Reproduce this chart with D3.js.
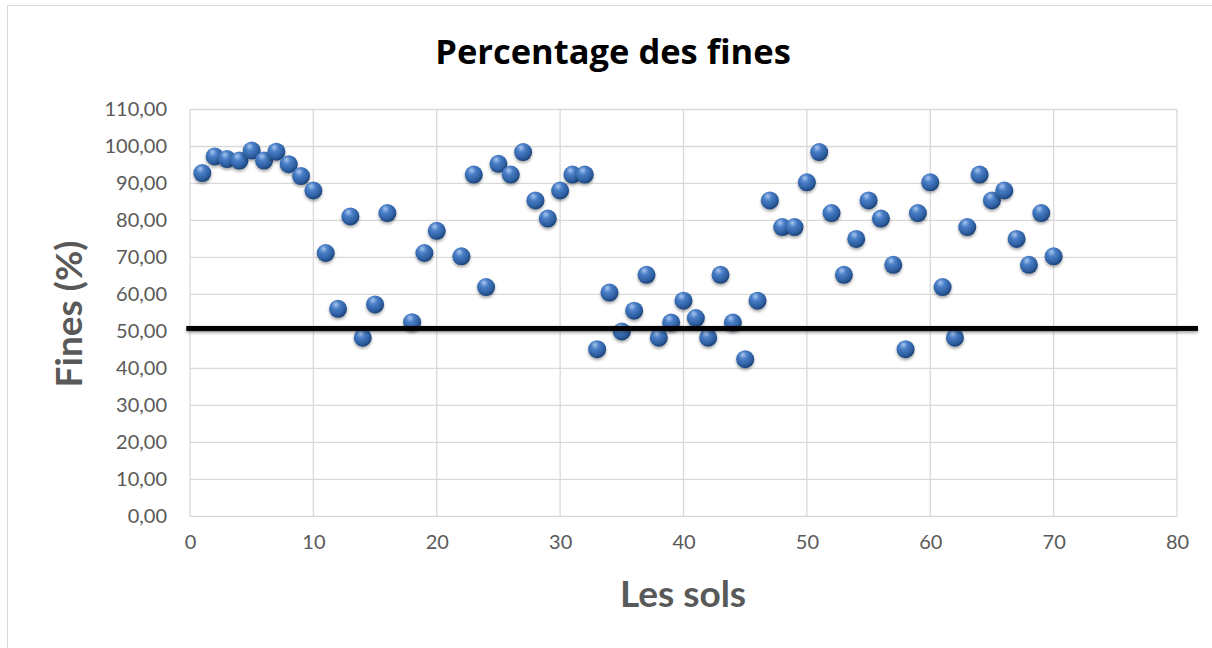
<!DOCTYPE html>
<html>
<head>
<meta charset="utf-8">
<script src="https://cdn.jsdelivr.net/npm/d3@7"></script>
<style>
  html, body { margin: 0; padding: 0; background: #fff; }
  svg { display: block; }
</style>
</head>
<body>
<svg id="chart"></svg>
<script>
// données
const sols = [1, 2, 3, 4, 5, 6, 7, 8, 9, 10, 11, 12, 13, 14, 15, 16, 18, 19, 20, 22,
  23, 24, 25, 26, 27, 28, 29, 30, 31, 32, 33, 34, 35, 36, 37, 38, 39, 40, 41, 42,
  43, 44, 45, 46, 47, 48, 49, 50, 51, 52, 53, 54, 55, 56, 57, 58, 59, 60, 61, 62,
  63, 64, 65, 66, 67, 68, 69, 70];
const fines = [92.8, 97.3, 96.6, 96.2, 98.9, 96.2, 98.6, 95.2, 92.0, 88.1, 71.2, 56.1, 81.1, 48.3, 57.3, 82.0, 52.5, 71.2, 77.2, 70.3,
  92.4, 62.0, 95.3, 92.4, 98.5, 85.4, 80.5, 88.1, 92.4, 92.4, 45.2, 60.5, 50.0, 55.6, 65.3, 48.3, 52.4, 58.3, 53.6, 48.3,
  65.3, 52.4, 42.5, 58.3, 85.4, 78.2, 78.2, 90.3, 98.5, 82.0, 65.3, 75.0, 85.4, 80.5, 68.0, 45.2, 82.0, 90.3, 62.0, 48.3,
  78.2, 92.4, 85.4, 88.1, 75.0, 68.0, 82.0, 70.3];
const xTicks = [0, 10, 20, 30, 40, 50, 60, 70, 80];
const yTicks = [0, 10, 20, 30, 40, 50, 60, 70, 80, 90, 100, 110];
const limite = 50.8;          // trait noir tracé à la main
const limiteX = [-0.3, 81.7];

const W = 1212, H = 648;
const FONT = 'Lato, "Open Sans", sans-serif';
const GREY = '#595959';

const svg = d3.select('#chart').attr('width', W).attr('height', H);

// cadre du graphique
svg.append('rect')
  .attr('x', 7.5).attr('y', 5.5).attr('width', W + 10).attr('height', H + 10)
  .attr('fill', '#fff').attr('stroke', '#d9d9d9').attr('stroke-width', 1);

const x = d3.scaleLinear().domain([0, 80]).range([190, 1177]);
const y = d3.scaleLinear().domain([0, 110]).range([516.3, 109.5]);

// defs : dégradé des bulles + ombre
const defs = svg.append('defs');
const rg = defs.append('radialGradient').attr('id', 'bulle')
  .attr('cx', '40%').attr('cy', '35%').attr('r', '65%').attr('fx', '38%').attr('fy', '25%');
rg.append('stop').attr('offset', '0%').attr('stop-color', '#a9c6ee');
rg.append('stop').attr('offset', '35%').attr('stop-color', '#4a7fc8');
rg.append('stop').attr('offset', '80%').attr('stop-color', '#2c5d9f');
rg.append('stop').attr('offset', '100%').attr('stop-color', '#1b4275');

const sh = defs.append('filter').attr('id', 'ombre')
  .attr('filterUnits', 'userSpaceOnUse').attr('x', 0).attr('y', 0).attr('width', W).attr('height', H);
sh.append('feGaussianBlur').attr('in', 'SourceAlpha').attr('stdDeviation', 1.5).attr('result', 'b');
sh.append('feOffset').attr('in', 'b').attr('dx', 0).attr('dy', 2).attr('result', 'o');
sh.append('feComponentTransfer').attr('in', 'o').attr('result', 'oa')
  .append('feFuncA').attr('type', 'linear').attr('slope', 0.35);
const shm = sh.append('feMerge');
shm.append('feMergeNode').attr('in', 'oa');
shm.append('feMergeNode').attr('in', 'SourceGraphic');

// grille
const grid = svg.append('g');
grid.selectAll('line.h').data(yTicks).join('line')
  .attr('x1', x(0)).attr('x2', x(80))
  .attr('y1', d => y(d)).attr('y2', d => y(d))
  .attr('stroke', '#d9d9d9').attr('stroke-width', 1.3);
grid.selectAll('line.v').data(xTicks).join('line')
  .attr('y1', y(0)).attr('y2', y(110))
  .attr('x1', d => x(d)).attr('x2', d => x(d))
  .attr('stroke', '#d9d9d9').attr('stroke-width', 1.3);

// axes (texte seulement)
const yAxis = svg.append('g').attr('transform', `translate(${x(0)},0)`)
  .call(d3.axisLeft(y).tickValues(yTicks).tickSize(0).tickPadding(23)
    .tickFormat(d => d3.format('.2f')(d).replace('.', ',')));
const xAxis = svg.append('g').attr('transform', `translate(0,${y(0)})`)
  .call(d3.axisBottom(x).tickValues(xTicks).tickSize(0).tickPadding(19));
[xAxis, yAxis].forEach(a => {
  a.select('.domain').remove();
  a.selectAll('text').attr('fill', GREY).attr('font-size', 20).attr('font-family', FONT);
});

// points
svg.append('g').selectAll('circle').data(sols).join('circle')
  .attr('cx', d => x(d))
  .attr('cy', (d, i) => y(fines[i]))
  .attr('r', 9)
  .attr('fill', 'url(#bulle)')
  .attr('filter', 'url(#ombre)');

// trait limite
svg.append('rect')
  .attr('x', x(limiteX[0])).attr('width', x(limiteX[1]) - x(limiteX[0]))
  .attr('y', y(limite) - 2.5).attr('height', 5)
  .attr('fill', '#000')
  .attr('filter', 'url(#ombre)');

// titres
svg.append('text')
  .attr('x', 613).attr('y', 64)
  .attr('text-anchor', 'middle')
  .attr('font-family', '"Open Sans", sans-serif').attr('font-weight', 700).attr('font-size', 34.5)
  .attr('fill', '#000')
  .text('Percentage des fines');

svg.append('text')
  .attr('x', 683).attr('y', 607)
  .attr('text-anchor', 'middle')
  .attr('font-family', FONT).attr('font-weight', 700).attr('font-size', 37)
  .attr('fill', GREY)
  .text('Les sols');

svg.append('text')
  .attr('transform', 'translate(82,314) rotate(-90)')
  .attr('text-anchor', 'middle')
  .attr('font-family', FONT).attr('font-weight', 700).attr('font-size', 37)
  .attr('fill', GREY)
  .text('Fines (%)');
</script>
</body>
</html>
